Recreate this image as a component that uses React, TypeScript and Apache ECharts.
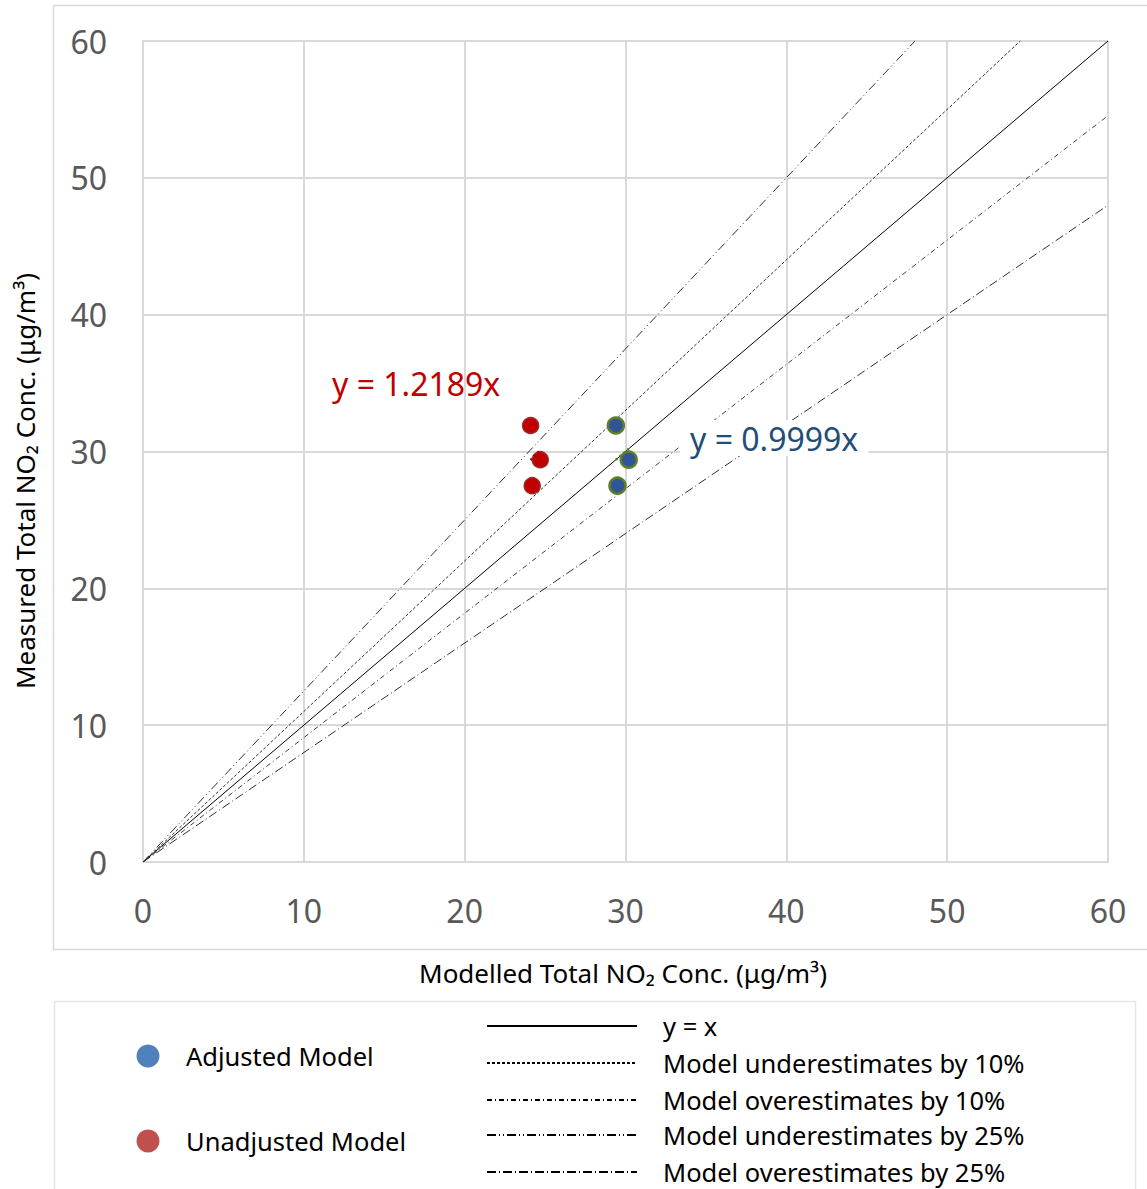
import React, { useEffect, useRef } from "react";
import * as echarts from "echarts";

const FONT = "'Noto Sans', 'Open Sans', sans-serif";

const adjustedX = [29.4, 30.2, 29.5];
const adjustedY = [31.9, 29.4, 27.5];
const unadjustedX = [24.1, 24.7, 24.2];
const unadjustedY = [31.9, 29.4, 27.5];

const adjustedSlope = 0.9999;
const unadjustedSlope = 1.2189;

const refNames = [
  "y = x",
  "Model underestimates by 10%",
  "Model overestimates by 10%",
  "Model underestimates by 25%",
  "Model overestimates by 25%",
];
const refSlopes = [1, 1.1, 1 / 1.1, 1.25, 0.8];
const refDash: (string | number[])[] = [
  "solid",
  [3, 2],
  [5, 3, 1, 3],
  [9, 3, 1, 3, 1, 3],
  [9, 3, 1, 3],
];
const refColors = ["#000000", "#303030", "#404040", "#303030", "#303030"];

const scatterNames = ["Adjusted Model", "Unadjusted Model"];

const AXIS_MAX = 60;

export default function App() {
  const ref = useRef<HTMLDivElement>(null);
  useEffect(() => {
    if (!ref.current) return;
    const chart = echarts.init(ref.current, null, { renderer: "svg" });

    const refSeries = refSlopes.map((s, i) => {
      const xEnd = Math.min(AXIS_MAX, AXIS_MAX / s);
      return {
        name: refNames[i],
        type: "line",
        data: [
          [0, 0],
          [xEnd, xEnd * s],
        ],
        symbol: "none",
        silent: true,
        lineStyle: { color: refColors[i], width: 1, type: refDash[i] },
        z: 2,
      };
    });

    const trend = (xs: number[], slope: number, color: string, name: string) => {
      const lo = Math.min(...xs);
      const hi = Math.max(...xs);
      return {
        name,
        type: "line",
        data: [
          [lo, lo * slope],
          [hi, hi * slope],
        ],
        symbol: "none",
        silent: true,
        lineStyle: { color, width: 2.5, type: [2, 3] },
        z: 6,
      };
    };

    const legendLineY = [1026, 1063, 1100, 1135, 1172];
    const legendGraphics: any[] = [];
    refNames.forEach((n, i) => {
      legendGraphics.push({
        type: "line",
        shape: { x1: 487, y1: legendLineY[i], x2: 637, y2: legendLineY[i] },
        style: {
          stroke: "#000",
          lineWidth: 2,
          lineDash: refDash[i] === "solid" ? null : refDash[i],
        },
      });
      legendGraphics.push({
        type: "text",
        x: 663,
        y: legendLineY[i],
        style: {
          text: n,
          font: `25.5px ${FONT}`,
          fill: "#000",
          verticalAlign: "middle",
          align: "left",
        },
      });
    });
    const legendDotY = [1056, 1141];
    const legendDotColor = ["#4F81BD", "#C0504D"];
    scatterNames.forEach((n, i) => {
      legendGraphics.push({
        type: "circle",
        shape: { cx: 148, cy: legendDotY[i], r: 11.5 },
        style: { fill: legendDotColor[i] },
      });
      legendGraphics.push({
        type: "text",
        x: 186,
        y: legendDotY[i],
        style: {
          text: n,
          font: `25.5px ${FONT}`,
          fill: "#000",
          verticalAlign: "middle",
          align: "left",
        },
      });
    });

    chart.setOption({
      animation: false,
      backgroundColor: "#ffffff",
      grid: { left: 143, top: 41, width: 965, height: 821, containLabel: false },
      xAxis: {
        type: "value",
        min: 0,
        max: AXIS_MAX,
        interval: 10,
        axisLine: { show: true, lineStyle: { color: "#d9d9d9", width: 2 } },
        axisTick: { show: false },
        splitLine: { show: true, lineStyle: { color: "#d9d9d9", width: 2 } },
        axisLabel: {
          color: "#595959",
          fontSize: 32,
          fontFamily: FONT,
          margin: 32,
        },
      },
      yAxis: {
        type: "value",
        min: 0,
        max: AXIS_MAX,
        interval: 10,
        axisLine: { show: true, lineStyle: { color: "#d9d9d9", width: 2 } },
        axisTick: { show: false },
        splitLine: { show: true, lineStyle: { color: "#d9d9d9", width: 2 } },
        axisLabel: {
          color: "#595959",
          fontSize: 32,
          fontFamily: FONT,
          margin: 36,
        },
      },
      series: [
        ...refSeries,
        {
          name: scatterNames[0],
          type: "scatter",
          data: adjustedX.map((x, i) => [x, adjustedY[i]]),
          symbol: "circle",
          symbolSize: 16,
          itemStyle: { color: "#2F5597", borderColor: "#5E7F2A", borderWidth: 2.5, opacity: 1 },
          z: 5,
        },
        {
          name: scatterNames[1],
          type: "scatter",
          data: unadjustedX.map((x, i) => [x, unadjustedY[i]]),
          symbol: "circle",
          symbolSize: 16,
          itemStyle: { color: "#C00000", borderColor: "#9C2A2A", borderWidth: 1.5, opacity: 1 },
          z: 5,
        },
        trend(adjustedX, adjustedSlope, "#548235", "Adjusted trend"),
        trend(unadjustedX, unadjustedSlope, "#A50000", "Unadjusted trend"),
      ],
      graphic: [
        {
          type: "rect",
          shape: { x: 53.5, y: 5.5, width: 1110, height: 944 },
          style: { fill: "none", stroke: "#d9d9d9", lineWidth: 1.5 },
          silent: true,
          z: -10,
        },
        {
          type: "rect",
          shape: { x: 54.5, y: 1001.5, width: 1081, height: 210 },
          style: { fill: "none", stroke: "#e6e6e6", lineWidth: 1.5 },
          silent: true,
          z: -10,
        },
        {
          type: "text",
          x: 332,
          y: 383,
          z: 10,
          style: {
            text: "y = 1.2189x",
            font: `32px ${FONT}`,
            fill: "#C00000",
            verticalAlign: "middle",
            align: "left",
          },
        },
        {
          type: "text",
          x: 680,
          y: 438,
          z: 10,
          style: {
            text: "y = 0.9999x",
            font: `32px ${FONT}`,
            fill: "#1F4E79",
            verticalAlign: "middle",
            align: "left",
            backgroundColor: "#ffffff",
            padding: [2, 10, 2, 10],
          },
        },
        {
          type: "text",
          x: 623,
          y: 973,
          style: {
            text: "Modelled Total NO₂ Conc. (μg/m³)",
            font: `26px ${FONT}`,
            fill: "#000",
            verticalAlign: "middle",
            align: "center",
          },
        },
        {
          type: "text",
          x: 25,
          y: 481,
          rotation: Math.PI / 2,
          style: {
            text: "Measured Total NO₂ Conc. (μg/m³)",
            font: `26px ${FONT}`,
            fill: "#000",
            verticalAlign: "middle",
            align: "center",
          },
        },
        ...legendGraphics,
      ],
    });
    return () => chart.dispose();
  }, []);
  return (
    <div
      ref={ref}
      style={{ position: "absolute", left: 0, top: 0, width: 1147, height: 1189 }}
    />
  );
}
